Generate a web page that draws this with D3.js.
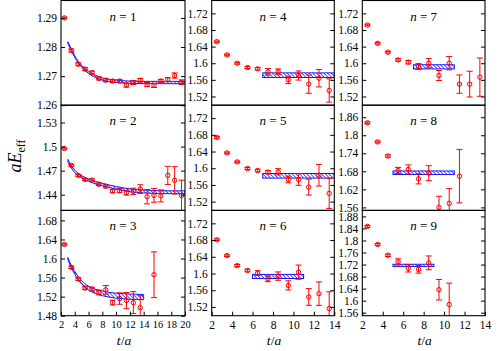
<!DOCTYPE html>
<html>
<head>
<meta charset="utf-8">
<script src="https://cdn.jsdelivr.net/npm/d3@7"></script>
<style>
  body { margin: 0; background: #fff; }
</style>
</head>
<body>
<svg id="chart" width="499" height="351"></svg>
<script>
// ---- data ----
const tLong = [2.5, 3.5, 4.5, 5.5, 6.5, 7.5, 8.5, 9.5, 10.5, 11.5, 12.5, 13.5, 14.5, 15.5, 16.5, 17.5, 18.5, 19.5];
const tShort = [2.5, 3.5, 4.5, 5.5, 6.5, 7.5, 8.5, 9.5, 10.5, 11.5, 12.5, 13.5];
const tN3 = [2.5, 3.5, 4.5, 5.5, 6.5, 7.5, 8.5, 9.5, 10.5, 11.5, 12.5, 13.5, 15.5];
const tN8 = [2.5, 3.5, 4.5, 5.5, 6.5, 7.5, 8.5, 9.5, 10.5, 11.5];
const tN9 = [2.5, 3.5, 4.5, 5.5, 6.5, 7.5, 8.5, 9.5, 10.5];

const valsN1 = [1.2900, 1.2788, 1.2741, 1.2724, 1.2712, 1.2692, 1.2686, 1.2683, 1.2683, 1.2669, 1.2678, 1.2686, 1.2671, 1.2668, 1.2683, 1.2688, 1.2702, 1.2679];
const errsN1 = [0.0003, 0.0005, 0.0005, 0.0005, 0.0005, 0.0005, 0.0005, 0.0005, 0.0005, 0.0007, 0.0007, 0.0006, 0.0007, 0.0007, 0.0006, 0.0007, 0.0009, 0.0008];
const valsN2 = [1.4975, 1.4766, 1.4641, 1.4588, 1.4582, 1.4529, 1.4504, 1.4445, 1.4450, 1.4425, 1.4441, 1.4470, 1.4375, 1.4391, 1.4385, 1.4641, 1.4579, 1.4391];
const errsN2 = [0.0008, 0.0012, 0.0012, 0.0012, 0.0015, 0.0015, 0.0018, 0.0020, 0.0025, 0.0030, 0.0040, 0.0054, 0.0090, 0.0085, 0.0075, 0.0113, 0.0170, 0.0190];
const valsN3 = [1.6295, 1.5815, 1.5570, 1.5380, 1.5358, 1.5287, 1.5343, 1.5075, 1.5160, 1.5118, 1.5075, 1.4970, 1.5660];
const errsN3 = [0.0015, 0.0025, 0.0030, 0.0030, 0.0040, 0.0050, 0.0090, 0.0050, 0.0120, 0.0170, 0.0230, 0.0250, 0.0480];
const valsN4 = [1.6520, 1.6200, 1.6000, 1.5896, 1.5865, 1.5793, 1.5793, 1.5600, 1.5705, 1.5497, 1.5640, 1.5345];
const errsN4 = [0.0015, 0.0020, 0.0020, 0.0025, 0.0030, 0.0080, 0.0070, 0.0090, 0.0110, 0.0220, 0.0210, 0.0280];
const valsN5 = [1.6738, 1.6367, 1.6152, 1.5993, 1.5945, 1.5905, 1.5914, 1.5731, 1.5731, 1.5548, 1.5833, 1.5398];
const errsN5 = [0.0020, 0.0020, 0.0020, 0.0025, 0.0030, 0.0040, 0.0075, 0.0080, 0.0140, 0.0190, 0.0260, 0.0360];
const valsN6 = [1.6808, 1.6428, 1.6190, 1.6072, 1.6008, 1.5874, 1.5937, 1.5715, 1.6032, 1.5438, 1.5518, 1.5162];
const errsN6 = [0.0020, 0.0020, 0.0025, 0.0030, 0.0060, 0.0070, 0.0100, 0.0110, 0.0170, 0.0200, 0.0280, 0.0400];
const valsN7 = [1.6920, 1.6480, 1.6265, 1.6080, 1.6025, 1.5920, 1.6001, 1.5705, 1.6001, 1.5497, 1.5497, 1.5665];
const errsN7 = [0.0020, 0.0020, 0.0020, 0.0030, 0.0040, 0.0072, 0.0110, 0.0120, 0.0160, 0.0220, 0.0310, 0.0460];
const valsN8 = [1.8414, 1.7778, 1.7309, 1.6830, 1.6863, 1.6551, 1.6739, 1.5600, 1.5734, 1.6639];
const errsN8 = [0.0030, 0.0030, 0.0040, 0.0100, 0.0150, 0.0170, 0.0250, 0.0370, 0.0490, 0.0890];
const valsN9 = [1.8468, 1.7868, 1.7508, 1.7290, 1.7073, 1.7040, 1.7256, 1.6363, 1.5872];
const errsN9 = [0.0030, 0.0030, 0.0040, 0.0100, 0.0120, 0.0125, 0.0230, 0.0340, 0.0710];

// fit bands: t, centre, half width
const bandTN1 = [3, 3.5, 4, 4.5, 5, 6, 7, 8, 9, 10, 12, 14, 16, 18, 20];
const bandCN1 = [1.2815, 1.2790, 1.2767, 1.2748, 1.2734, 1.2713, 1.2699, 1.2690, 1.2685, 1.2682, 1.2679, 1.2678, 1.2678, 1.2678, 1.2678];
const bandWN1 = [0.0003, 0.0003, 0.0003, 0.0003, 0.0003, 0.0004, 0.0004, 0.0004, 0.0004, 0.0004, 0.0004, 0.0004, 0.0004, 0.0004, 0.0004];
const bandTN2 = [3, 3.5, 4, 5, 6, 7, 8, 10, 12, 14, 16, 18, 20];
const bandCN2 = [1.4825, 1.4748, 1.4690, 1.4622, 1.4582, 1.4550, 1.4527, 1.4485, 1.4455, 1.4440, 1.4432, 1.4430, 1.4430];
const bandWN2 = [0.0015, 0.0015, 0.0015, 0.0015, 0.0015, 0.0016, 0.0016, 0.0017, 0.0018, 0.0018, 0.0018, 0.0018, 0.0018];
const bandTN3 = [3, 3.5, 4, 5, 6, 7, 8, 9, 10, 11, 12, 14];
const bandCN3 = [1.6000, 1.5830, 1.5700, 1.5500, 1.5380, 1.5310, 1.5270, 1.5240, 1.5220, 1.5210, 1.5200, 1.5190];
const bandWN3 = [0.0020, 0.0025, 0.0030, 0.0035, 0.0040, 0.0045, 0.0050, 0.0050, 0.0052, 0.0054, 0.0055, 0.0055];
// plateau bands: [tStart, tEnd], centre, half width
const plateauN4 = [7, 14, 1.5713, 0.0055];
const plateauN5 = [7, 14, 1.5819, 0.0055];
const plateauN6 = [6, 11, 1.5929, 0.0050];
const plateauN7 = [7, 11, 1.5913, 0.0050];
const plateauN8 = [5, 11, 1.6752, 0.0060];
const plateauN9 = [5, 9, 1.7171, 0.0040];

// axes
const xTicksWide = [2, 4, 6, 8, 10, 12, 14, 16, 18, 20];
const xTicksNarrow = [2, 4, 6, 8, 10, 12, 14];
const yTicksN1 = [1.26, 1.27, 1.28, 1.29];
const yTicksN2 = [1.44, 1.47, 1.5, 1.53];
const yTicksN3 = [1.48, 1.52, 1.56, 1.6, 1.64, 1.68];
const yTicksMid = [1.52, 1.56, 1.6, 1.64, 1.68, 1.72];
const yTicksN8 = [1.56, 1.62, 1.68, 1.74, 1.8, 1.86];
const yTicksN9 = [1.56, 1.6, 1.64, 1.68, 1.72, 1.76, 1.8, 1.84, 1.88];

// ---- layout ----
const svg = d3.select("#chart");
svg.append("rect").attr("width", 499).attr("height", 351).attr("fill", "#fff");

const colX = [[61, 185], [211.7, 334.3], [362.3, 485]];
const rowY = [[0.5, 105.2], [105.2, 210.4], [210.4, 315.7]];
const serif = "'Liberation Serif', 'DejaVu Serif', serif";
const red = "#ff0000", blue = "#0000ff";

// hatch pattern for the fit bands
const defs = svg.append("defs");
defs.append("pattern")
    .attr("id", "hatch")
    .attr("patternUnits", "userSpaceOnUse")
    .attr("width", 2.6).attr("height", 2.6)
    .attr("patternTransform", "rotate(-45)")
  .append("line")
    .attr("x1", 0).attr("y1", 0).attr("x2", 0).attr("y2", 2.6)
    .attr("stroke", blue).attr("stroke-width", 1.3);

const panels = [
    { n: 1, col: 0, row: 0, t: tLong, v: valsN1, e: errsN1, yDom: [1.26, 1.296], yTicks: yTicksN1, curve: [bandTN1, bandCN1, bandWN1] },
    { n: 2, col: 0, row: 1, t: tLong, v: valsN2, e: errsN2, yDom: [1.4204, 1.5516], yTicks: yTicksN2, curve: [bandTN2, bandCN2, bandWN2] },
    { n: 3, col: 0, row: 2, t: tN3, v: valsN3, e: errsN3, yDom: [1.48, 1.701], yTicks: yTicksN3, curve: [bandTN3, bandCN3, bandWN3] },
    { n: 4, col: 1, row: 0, t: tShort, v: valsN4, e: errsN4, yDom: [1.499, 1.751], yTicks: yTicksMid, plateau: plateauN4 },
    { n: 5, col: 1, row: 1, t: tShort, v: valsN5, e: errsN5, yDom: [1.499, 1.751], yTicks: yTicksMid, plateau: plateauN5 },
    { n: 6, col: 1, row: 2, t: tShort, v: valsN6, e: errsN6, yDom: [1.499, 1.751], yTicks: yTicksMid, plateau: plateauN6 },
    { n: 7, col: 2, row: 0, t: tShort, v: valsN7, e: errsN7, yDom: [1.499, 1.751], yTicks: yTicksMid, plateau: plateauN7 },
    { n: 8, col: 2, row: 1, t: tN8, v: valsN8, e: errsN8, yDom: [1.55, 1.90], yTicks: yTicksN8, plateau: plateauN8 },
    { n: 9, col: 2, row: 2, t: tN9, v: valsN9, e: errsN9, yDom: [1.55, 1.90], yTicks: yTicksN9, plateau: plateauN9 }
];

function fmt(v) { return String(+v.toFixed(2)); }

panels.forEach(function(p) {
    const [x0, x1] = colX[p.col];
    const [y0, y1] = rowY[p.row];
    const x = d3.scaleLinear().domain(p.col === 0 ? [2, 20] : [2, 14]).range([x0, x1]);
    const y = d3.scaleLinear().domain(p.yDom).range([y1, y0]);

    const clipId = "clip" + p.n;
    defs.append("clipPath").attr("id", clipId)
      .append("rect").attr("x", x0).attr("y", y0).attr("width", x1 - x0).attr("height", y1 - y0);

    const g = svg.append("g");
    const plot = g.append("g").attr("clip-path", "url(#" + clipId + ")");

    // fit band
    if (p.curve) {
        const [bt, bc, bw] = p.curve;
        const rows = bt.map((t, i) => ({ t: t, c: bc[i], w: bw[i] }));
        const area = d3.area()
            .x(d => x(d.t))
            .y0(d => y(d.c - d.w))
            .y1(d => y(d.c + d.w))
            .curve(d3.curveMonotoneX);
        plot.append("path").datum(rows)
            .attr("d", area)
            .attr("fill", "url(#hatch)")
            .attr("stroke", blue).attr("stroke-width", 0.9);
    }
    if (p.plateau) {
        const [ta, tb, c, w] = p.plateau;
        plot.append("rect")
            .attr("x", x(ta)).attr("width", x(tb) - x(ta))
            .attr("y", y(c + w)).attr("height", y(c - w) - y(c + w))
            .attr("fill", "url(#hatch)")
            .attr("stroke", blue).attr("stroke-width", 0.9);
    }

    // data points with error bars
    const pts = p.t.map((t, i) => ({ t: t, v: p.v[i], e: p.e[i] }));
    const pg = plot.selectAll(".pt").data(pts).enter().append("g").attr("class", "pt");
    pg.append("line")
        .attr("x1", d => x(d.t)).attr("x2", d => x(d.t))
        .attr("y1", d => y(d.v - d.e)).attr("y2", d => y(d.v + d.e))
        .attr("stroke", red).attr("stroke-width", 1);
    pg.append("line")
        .attr("x1", d => x(d.t) - 3).attr("x2", d => x(d.t) + 3)
        .attr("y1", d => y(d.v + d.e)).attr("y2", d => y(d.v + d.e))
        .attr("stroke", red).attr("stroke-width", 1);
    pg.append("line")
        .attr("x1", d => x(d.t) - 3).attr("x2", d => x(d.t) + 3)
        .attr("y1", d => y(d.v - d.e)).attr("y2", d => y(d.v - d.e))
        .attr("stroke", red).attr("stroke-width", 1);
    pg.append("circle")
        .attr("cx", d => x(d.t)).attr("cy", d => y(d.v))
        .attr("r", 2.2)
        .attr("fill", "none").attr("stroke", red).attr("stroke-width", 1);

    // axes: inward ticks left and right
    const left = g.append("g").attr("transform", `translate(${x0},0)`)
        .call(d3.axisLeft(y).tickValues(p.yTicks).tickSize(-4).tickSizeOuter(0).tickPadding(4).tickFormat(fmt));
    const right = g.append("g").attr("transform", `translate(${x1},0)`)
        .call(d3.axisRight(y).tickValues(p.yTicks).tickSize(-4).tickSizeOuter(0).tickFormat(""));
    [left, right].forEach(a => {
        a.select(".domain").remove();
        a.attr("font-family", serif).attr("font-size", 11.5);
        a.selectAll("text").attr("fill", "#000");
    });

    if (p.row === 2) {
        const bottom = g.append("g").attr("transform", `translate(0,${y1})`)
            .call(d3.axisBottom(x).tickValues(p.col === 0 ? xTicksWide : xTicksNarrow)
                .tickSize(-4).tickSizeOuter(0).tickPadding(5));
        bottom.select(".domain").remove();
        bottom.attr("font-family", serif).attr("font-size", p.col === 0 ? 10.5 : 11.5);
        bottom.selectAll("text").attr("fill", "#000");

        const xl = g.append("text")
            .attr("x", (x0 + x1) / 2 + 1).attr("y", 345)
            .attr("text-anchor", "middle")
            .attr("font-family", serif).attr("font-size", 13.5);
        xl.append("tspan").attr("font-style", "italic").text("t");
        xl.append("tspan").text("/");
        xl.append("tspan").attr("font-style", "italic").text("a");
    }

    // frame
    g.append("rect")
        .attr("x", x0).attr("y", y0).attr("width", x1 - x0).attr("height", y1 - y0)
        .attr("fill", "none").attr("stroke", "#000").attr("stroke-width", 1.1);

    // panel label
    const lab = g.append("text")
        .attr("x", (x0 + x1) / 2).attr("y", y0 + 20)
        .attr("text-anchor", "middle")
        .attr("font-family", serif).attr("font-size", 13);
    lab.append("tspan").attr("font-style", "italic").text("n");
    lab.append("tspan").text(" = " + p.n);
});

// y label
const yl = svg.append("text")
    .attr("transform", "translate(21,156) rotate(-90)")
    .attr("text-anchor", "middle")
    .attr("font-family", serif).attr("font-size", 18);
yl.append("tspan").attr("font-style", "italic").text("aE");
yl.append("tspan").attr("font-size", 12).attr("dy", 4).text("eff");
</script>
</body>
</html>
